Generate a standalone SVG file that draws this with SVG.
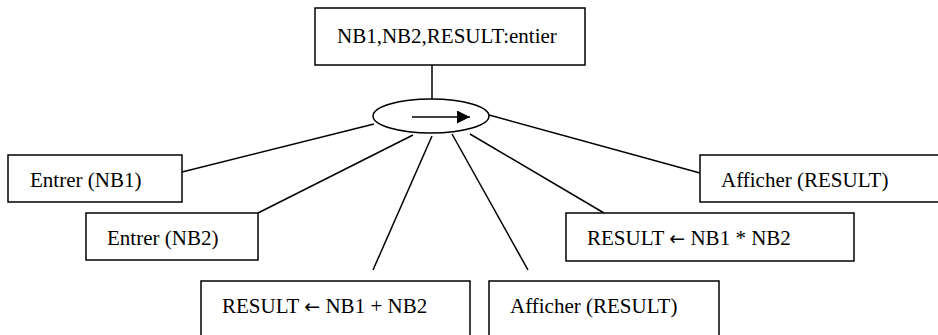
<svg xmlns="http://www.w3.org/2000/svg" width="938" height="335" viewBox="0 0 938 335">
  <defs>
    <style>
      .box { fill: #fff; stroke: #000; stroke-width: 1.5; }
      .lbl { font-family: 'Liberation Serif', 'DejaVu Serif', serif; font-size: 21px; fill: #000; }
      .arw { font-family: 'DejaVu Sans', sans-serif; font-size: 19px; }
      .con line { stroke: #000; stroke-width: 1.5; }
    </style>
    <marker id="head" viewBox="0 0 10 10" refX="10" refY="5" markerWidth="13" markerHeight="13" markerUnits="userSpaceOnUse" orient="auto">
      <path d="M0,0 L10,5 L0,10 Z" fill="#000"/>
    </marker>
  </defs>
  <rect width="938" height="335" fill="#fff"/>

  <g id="connectors" class="con">
    <line x1="432" y1="65" x2="432" y2="99"/>
    <line x1="182" y1="172" x2="374" y2="124"/>
    <line x1="258" y1="213" x2="413" y2="135"/>
    <line x1="373" y1="270" x2="432" y2="136"/>
    <line x1="452" y1="134" x2="528" y2="270"/>
    <line x1="470" y1="134" x2="604" y2="213"/>
    <line x1="489" y1="115" x2="700" y2="173"/>
  </g>

  <g id="decl">
    <rect class="box" x="315" y="8" width="270" height="57"/>
    <text class="lbl" x="337" y="43">NB1,NB2,RESULT:entier</text>
  </g>

  <g id="seq">
    <ellipse class="box" cx="431" cy="116" rx="58" ry="17"/>
    <line x1="412" y1="117" x2="470" y2="117" stroke="#000" stroke-width="1.5" marker-end="url(#head)"/>
  </g>

  <g id="in1">
    <rect class="box" x="8" y="155" width="174" height="47"/>
    <text class="lbl" x="30" y="187">Entrer (NB1)</text>
  </g>

  <g id="in2">
    <rect class="box" x="86" y="213" width="172" height="47"/>
    <text class="lbl" x="107" y="245">Entrer (NB2)</text>
  </g>

  <g id="sum">
    <rect class="box" x="201" y="281" width="269" height="70"/>
    <text class="lbl" x="222" y="313">RESULT <tspan class="arw">←</tspan> NB1 + NB2</text>
  </g>

  <g id="out1">
    <rect class="box" x="489" y="281" width="230" height="70"/>
    <text class="lbl" x="510" y="313">Afficher (RESULT)</text>
  </g>

  <g id="prod">
    <rect class="box" x="566" y="213" width="288" height="48"/>
    <text class="lbl" x="587" y="245">RESULT <tspan class="arw">←</tspan> NB1 * NB2</text>
  </g>

  <g id="out2">
    <rect class="box" x="700" y="155" width="245" height="47"/>
    <text class="lbl" x="721" y="187">Afficher (RESULT)</text>
  </g>
</svg>
